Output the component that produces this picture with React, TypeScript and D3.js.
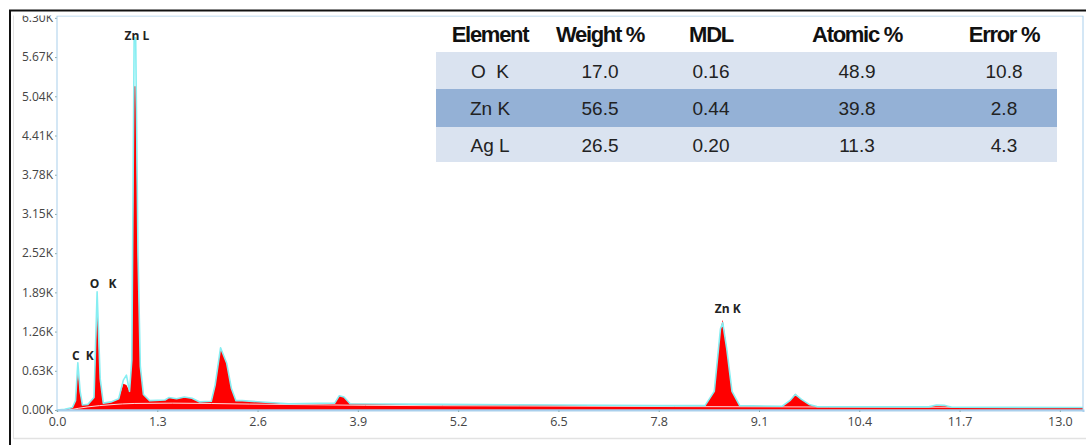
import React, { useEffect, useRef } from 'react';
import * as d3 from 'd3';

const energies = [0.0, 0.1, 0.2, 0.24, 0.27, 0.3, 0.33, 0.4, 0.48, 0.52, 0.56, 0.6, 0.7, 0.8, 0.86, 0.9, 0.94, 0.97, 1.0, 1.02, 1.05, 1.08, 1.12, 1.2, 1.4, 1.45, 1.55, 1.65, 1.75, 1.85, 2.0, 2.05, 2.12, 2.2, 2.26, 2.32, 2.4, 3.0, 3.6, 3.66, 3.72, 3.8, 5.0, 6.5, 7.8, 8.4, 8.52, 8.6, 8.63, 8.68, 8.75, 8.85, 9.4, 9.5, 9.57, 9.65, 9.75, 9.85, 11.3, 11.4, 11.5, 11.6, 13.3];
const measured = [0, 10, 40, 150, 760, 300, 80, 90, 200, 1900, 500, 110, 130, 180, 480, 560, 300, 800, 5980, 5980, 2500, 700, 250, 150, 160, 200, 180, 210, 190, 130, 140, 400, 1000, 750, 350, 150, 150, 100, 110, 230, 210, 100, 90, 80, 70, 70, 300, 1300, 1400, 1000, 300, 70, 60, 150, 250, 170, 90, 55, 50, 80, 75, 45, 40];
const fitted = [0, 10, 40, 150, 640, 280, 80, 90, 200, 1650, 480, 110, 130, 180, 420, 400, 300, 800, 5200, 5200, 2400, 700, 250, 150, 160, 200, 180, 210, 190, 130, 140, 400, 1010, 750, 350, 150, 150, 100, 110, 230, 210, 100, 90, 80, 70, 70, 300, 1300, 1450, 1000, 300, 70, 60, 150, 260, 170, 90, 55, 50, 80, 75, 45, 40];

// background fit (white line)
const bgEnergies = [0.15, 0.4, 0.7, 1.0, 1.5, 2.5, 4.0, 6.0, 8.0, 10.0, 13.3];
const bgCounts = [0, 50, 85, 105, 110, 95, 75, 65, 55, 48, 40];

const xTicks = [0.0, 1.3, 2.6, 3.9, 5.2, 6.5, 7.8, 9.1, 10.4, 11.7, 13.0];
const yTicks = [0, 630, 1260, 1890, 2520, 3150, 3780, 4410, 5040, 5670, 6300];

const peakNames = ['C  K', 'O   K', 'Zn L', 'Zn K'];
const peakEnergies = [0.27, 0.52, 1.01, 8.63];
const peakCounts = [800, 1960, 5940, 1560];
const peakShift = [5, 6, 2, 5];

const tableHeader = ['Element', 'Weight %', 'MDL', 'Atomic %', 'Error %'];
const tableElements = ['O  K', 'Zn K', 'Ag L'];
const weightPct = ['17.0', '56.5', '26.5'];
const mdl = ['0.16', '0.44', '0.20'];
const atomicPct = ['48.9', '39.8', '11.3'];
const errorPct = ['10.8', '2.8', '4.3'];

const W = 1086;
const H = 445;

const App = () => {
  const svgRef = useRef(null);

  useEffect(() => {
    const svg = d3.select(svgRef.current);
    svg.selectAll('*').remove();

    const margin = { top: 16, right: 3, bottom: 35, left: 57 };
    const width = W - margin.left - margin.right;
    const height = H - margin.top - margin.bottom;

    svg.append('rect').attr('width', W).attr('height', H).attr('fill', '#fff');

    // outer frame
    svg.append('line').attr('x1', 13).attr('x2', W).attr('y1', 438.5).attr('y2', 438.5)
      .attr('stroke', '#e2e2e2').attr('stroke-width', 1.5);
    svg.append('line').attr('x1', 13.5).attr('x2', 13.5).attr('y1', 12).attr('y2', 439)
      .attr('stroke', '#e2e2e2').attr('stroke-width', 1);

    const x = d3.scaleLinear().domain([0, 13.3]).range([0, width]);
    const y = d3.scaleLinear().domain([0, 6330]).range([height, 0]);

    const g = svg.append('g').attr('transform', `translate(${margin.left},${margin.top})`);

    const pts = energies.map((e, i) => ({ e, m: measured[i], f: fitted[i] }));

    const area = d3.area()
      .x(d => x(d.e))
      .y0(y(0))
      .y1(d => y(d.f));
    g.append('path').datum(pts).attr('d', area).attr('fill', '#ff0000');

    const bgPts = bgEnergies.map((e, i) => ({ e, c: bgCounts[i] }));
    g.append('path').datum(bgPts)
      .attr('d', d3.line().x(d => x(d.e)).y(d => y(d.c)).curve(d3.curveMonotoneX))
      .attr('fill', 'none').attr('stroke', '#fff').attr('stroke-opacity', 0.85).attr('stroke-width', 1);

    g.append('path').datum(pts)
      .attr('d', d3.line().x(d => x(d.e)).y(d => y(d.m)))
      .attr('fill', 'none').attr('stroke', '#86eef2').attr('stroke-width', 1.6)
      .attr('stroke-linejoin', 'round');

    // axes
    const xAxis = g.append('g').attr('transform', `translate(0,${height})`)
      .call(d3.axisBottom(x).tickValues(xTicks).tickFormat(d3.format('.1f')).tickSize(2).tickPadding(5));
    xAxis.select('.domain').attr('stroke', '#a9cfec').attr('stroke-width', 2);
    xAxis.selectAll('.tick line').attr('stroke', '#8aa');
    xAxis.selectAll('.tick text').attr('fill', '#444').style('font-size', '12.5px')
      .style('font-family', '"Open Sans", sans-serif');

    const yAxis = g.append('g')
      .call(d3.axisLeft(y).tickValues(yTicks).tickFormat(d => (d / 1000).toFixed(2) + 'K').tickSize(2).tickPadding(2));
    yAxis.select('.domain').remove();
    yAxis.selectAll('.tick line').attr('stroke', '#8aa');
    yAxis.selectAll('.tick text').attr('fill', '#444').style('font-size', '12px')
      .style('font-family', '"Open Sans", sans-serif');

    // peak labels
    g.selectAll('.peak')
      .data(peakNames)
      .join('text')
      .attr('x', (d, i) => x(peakEnergies[i]) + peakShift[i])
      .attr('y', (d, i) => y(peakCounts[i]))
      .attr('text-anchor', 'middle')
      .style('font-family', '"Open Sans", sans-serif')
      .style('font-weight', 'bold')
      .style('font-size', '12px')
      .style('white-space', 'pre')
      .attr('fill', '#222')
      .text(d => d);

    // white cover clipping the top label, then the black frame
    svg.append('rect').attr('x', 0).attr('y', 0).attr('width', W).attr('height', 15.5).attr('fill', '#fff');
    svg.append('line').attr('x1', 9).attr('x2', W).attr('y1', 10.5).attr('y2', 10.5)
      .attr('stroke', '#111').attr('stroke-width', 2);
    svg.append('line').attr('x1', 10).attr('x2', 10).attr('y1', 10).attr('y2', H)
      .attr('stroke', '#111').attr('stroke-width', 2);

    g.append('rect').attr('width', width).attr('height', height)
      .attr('fill', 'none').attr('stroke', '#a9cfec').attr('stroke-width', 1);

    // results table
    const tx = 436;
    const tw = 621;
    const colX = [490, 600, 711, 857, 1004];
    const rowTop = [52, 89, 127];
    const rowH = [37, 38, 35];
    const rowFill = ['#dae3f0', '#94b1d6', '#dae3f0'];

    const t = svg.append('g');
    t.selectAll('rect.row').data(rowTop).join('rect')
      .attr('x', tx).attr('y', d => d).attr('width', tw).attr('height', (d, i) => rowH[i])
      .attr('fill', (d, i) => rowFill[i]);

    t.selectAll('text.h').data(tableHeader).join('text')
      .attr('x', (d, i) => colX[i]).attr('y', 42)
      .attr('text-anchor', 'middle')
      .style('font-family', '"Liberation Sans", Arial, sans-serif')
      .style('font-weight', 'bold').style('font-size', '22px')
      .style('letter-spacing', '-1.3px')
      .attr('fill', '#111')
      .text(d => d);

    const cols = [tableElements, weightPct, mdl, atomicPct, errorPct];
    cols.forEach((col, ci) => {
      t.selectAll(`text.c${ci}`).data(col).join('text')
        .attr('x', colX[ci]).attr('y', (d, i) => rowTop[i] + rowH[i] / 2 + 7)
        .attr('text-anchor', 'middle')
        .style('font-family', '"Liberation Sans", Arial, sans-serif')
        .style('font-size', '19px')
        .style('white-space', 'pre')
        .attr('fill', '#222')
        .text(d => d);
    });
  }, []);

  return (
    <svg ref={svgRef} width={W} height={H}
      style={{ position: 'absolute', left: 0, top: 0, display: 'block' }} />
  );
};

export default App;
